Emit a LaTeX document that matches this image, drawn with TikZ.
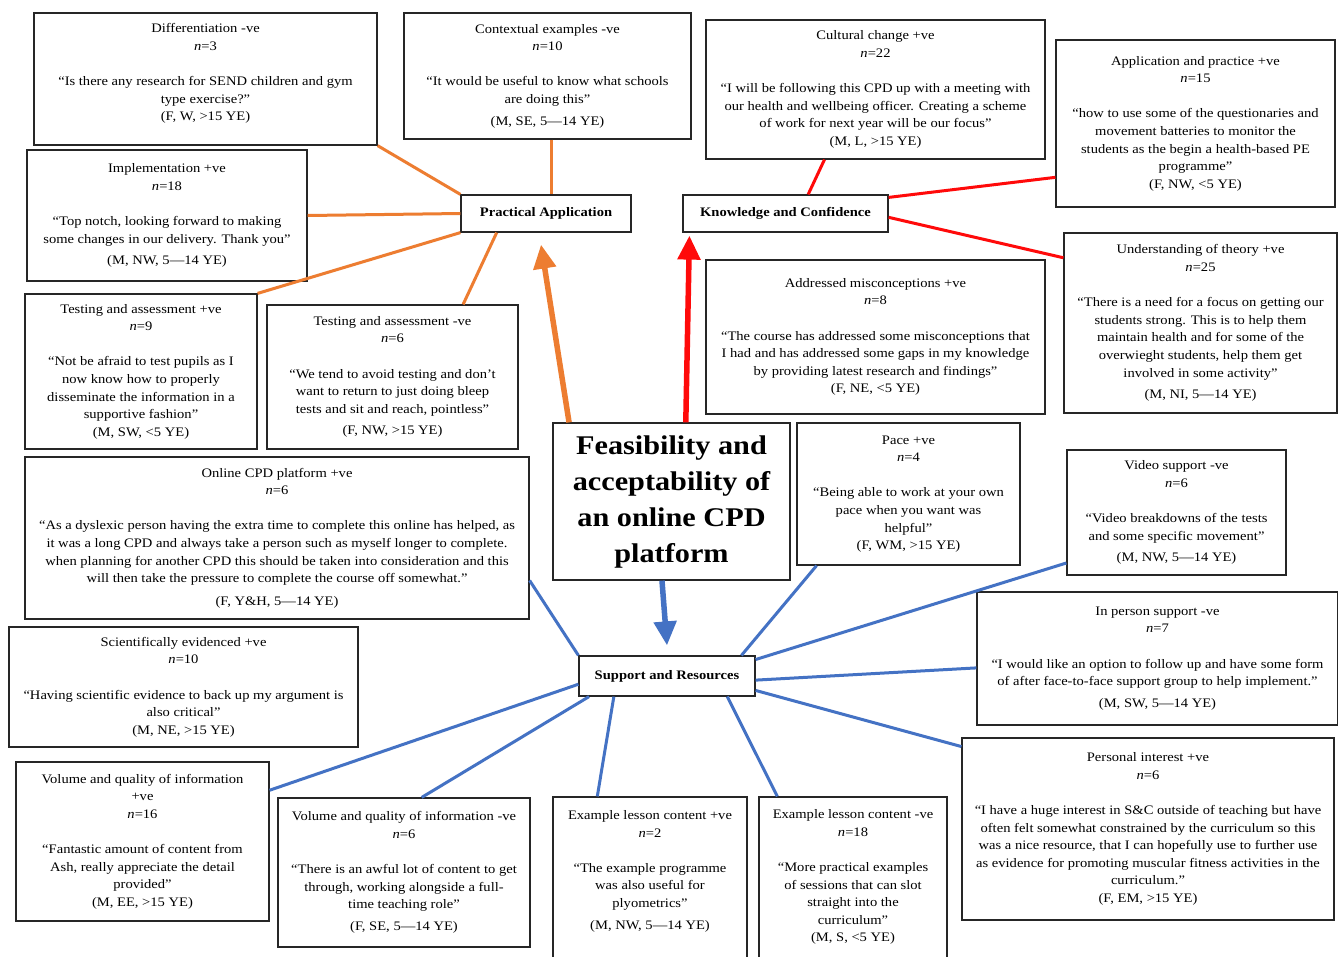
\documentclass[tikz,border=0pt]{standalone}
\usepackage{fontspec}
\setmainfont{Liberation Serif}[FakeStretch=1.12]
\usetikzlibrary{calc,arrows.meta}
\definecolor{orn}{HTML}{ED7D31}
\definecolor{rd}{HTML}{FF0A0A}
\definecolor{bl}{HTML}{4472C4}
\newcommand\nn[1]{\textit{n}=#1}
\begin{document}
\begin{tikzpicture}[x=1pt,y=-1pt,
  qbox/.style={draw=black!85,line width=1.2pt,inner sep=2pt,align=center,
    font=\fontsize{13}{17.6}\selectfont},
  hub/.style={draw=black!85,line width=1.2pt,inner sep=2pt,align=center,
    font=\fontsize{13}{15}\selectfont\bfseries},
  bigbox/.style={draw=black!85,line width=1.2pt,inner sep=2pt,align=center,
    font=\fontsize{27}{36}\selectfont\bfseries},
  olink/.style={draw=orn,line width=3pt},
  rlink/.style={draw=rd,line width=3pt},
  blink/.style={draw=bl,line width=3pt},
  bigarrow/.style={line width=5.5pt,-{Triangle[length=24pt,width=22pt]}}
]
\useasboundingbox (0,0) rectangle (1338,956);
\fill[white] (0,0) rectangle (1338,956);

% ---------- boxes ----------
\node[qbox,minimum width=343pt,minimum height=132pt] (diff) at (205.5,79)
 {Differentiation -ve\\ \nn{3}\\[17.6pt]
  ``Is there any research for SEND children and gym\\ type exercise?''\\ (F, W, >15 YE)\\[-4pt]\mbox{}};

\node[qbox,minimum width=287pt,minimum height=126pt] (ctx) at (547.5,76)
 {Contextual examples -ve\\ \nn{10}\\[17.6pt]
  ``It would be useful to know what schools\\ are doing this''\\[4pt] (M, SE, 5---14 YE)};

\node[qbox,minimum width=280pt,minimum height=131pt] (impl) at (167,215.5)
 {Implementation +ve\\ \nn{18}\\[17.6pt]
  ``Top notch, looking forward to making\\ some changes in our delivery. Thank you''\\[4pt] (M, NW, 5---14 YE)};

\node[hub,minimum width=170pt,minimum height=37pt] (PA) at (546,213.5) {Practical Application};
\node[hub,minimum width=205pt,minimum height=37pt] (KC) at (785.5,213.5) {Knowledge and Confidence};

\node[qbox,minimum width=339pt,minimum height=139pt] (cult) at (875.5,89.5)
 {Cultural change +ve\\ \nn{22}\\[17.6pt]
  ``I will be following this CPD up with a meeting with\\ our health and wellbeing officer. Creating a scheme\\
  of work for next year will be our focus''\\ (M, L, >15 YE)};

\node[qbox,minimum width=279pt,minimum height=167pt] (app) at (1195.5,123.5)
 {Application and practice +ve\\ \nn{15}\\[17.6pt]
  ``how to use some of the questionaries and\\ movement batteries to monitor the\\
  students as the begin a health-based PE\\ programme''\\ (F, NW, <5 YE)};

\node[qbox,minimum width=339pt,minimum height=154pt] (addr) at (875.5,337)
 {Addressed misconceptions +ve\\ \nn{8}\\[17.6pt]
  ``The course has addressed some misconceptions that\\ I had and has addressed some gaps in my knowledge\\
  by providing latest research and findings''\\ (F, NE, <5 YE)};

\node[qbox,minimum width=273pt,minimum height=180pt] (und) at (1200.5,323)
 {Understanding of theory +ve\\ \nn{25}\\[17.6pt]
  ``There is a need for a focus on getting our\\ students strong. This is to help them\\
  maintain health and for some of the\\ overwieght students, help them get\\
  involved in some activity''\\[4pt] (M, NI, 5---14 YE)};

\node[qbox,minimum width=232pt,minimum height=155pt] (tpos) at (141,371.5)
 {Testing and assessment +ve\\ \nn{9}\\[17.6pt]
  ``Not be afraid to test pupils as I\\ now know how to properly\\
  disseminate the information in a\\ supportive fashion''\\ (M, SW, <5 YE)};

\node[qbox,minimum width=251pt,minimum height=144pt] (tneg) at (392.5,377)
 {Testing and assessment -ve\\ \nn{6}\\[17.6pt]
  ``We tend to avoid testing and don't\\ want to return to just doing bleep\\
  tests and sit and reach, pointless''\\[4pt] (F, NW, >15 YE)};

\node[bigbox,minimum width=237pt,minimum height=157pt] (feas) at (671.5,501.5)
 {Feasibility and\\ acceptability of\\ an online CPD\\ platform};

\node[qbox,minimum width=223pt,minimum height=142pt] (pace) at (908.5,494)
 {Pace +ve\\ \nn{4}\\[17.6pt]
  ``Being able to work at your own\\ pace when you want was\\ helpful''\\ (F, WM, >15 YE)};

\node[qbox,minimum width=219pt,minimum height=125pt] (video) at (1176.5,512.5)
 {Video support -ve\\ \nn{6}\\[17.6pt]
  ``Video breakdowns of the tests\\ and some specific movement''\\[4pt] (M, NW, 5---14 YE)};

\node[qbox,minimum width=504pt,minimum height=162pt] (online) at (277,538)
 {Online CPD platform +ve\\ \nn{6}\\[17.6pt]
  ``As a dyslexic person having the extra time to complete this online has helped, as\\
  it was a long CPD and always take a person such as myself longer to complete.\\
  when planning for another CPD this should be taken into consideration and this\\
  will then take the pressure to complete the course off somewhat.''\\[5pt] (F, Y\&H, 5---14 YE)};

\node[qbox,minimum width=349pt,minimum height=120pt] (sci) at (183.5,687)
 {Scientifically evidenced +ve\\ \nn{10}\\[17.6pt]
  ``Having scientific evidence to back up my argument is\\ also critical''\\ (M, NE, >15 YE)};

\node[hub,minimum width=176pt,minimum height=40pt] (SR) at (667,676) {Support and Resources};

\node[qbox,minimum width=361pt,minimum height=133pt] (inperson) at (1157.5,658.5)
 {In person support -ve\\ \nn{7}\\[17.6pt]
  ``I would like an option to follow up and have some form\\
  of after face-to-face support group to help implement.''\\[4pt] (M, SW, 5---14 YE)};

\node[qbox,minimum width=372pt,minimum height=182pt] (personal) at (1148,829)
 {Personal interest +ve\\ \nn{6}\\[17.6pt]
  ``I have a huge interest in S\&C outside of teaching but have\\
  often felt somewhat constrained by the curriculum so this\\
  was a nice resource, that I can hopefully use to further use\\
  as evidence for promoting muscular fitness activities in the\\
  curriculum.''\\ (F, EM, >15 YE)};

\node[qbox,minimum width=253pt,minimum height=159pt] (volpos) at (142.5,841.5)
 {Volume and quality of information\\ +ve\\ \nn{16}\\[17.6pt]
  ``Fantastic amount of content from\\ Ash, really appreciate the detail\\
  provided''\\ (M, EE, >15 YE)};

\node[qbox,minimum width=252pt,minimum height=149pt] (volneg) at (404,872.5)
 {Volume and quality of information -ve\\ \nn{6}\\[17.6pt]
  ``There is an awful lot of content to get\\ through, working alongside a full-\\
  time teaching role''\\[4pt] (F, SE, 5---14 YE)};

\node[qbox,minimum width=194pt,minimum height=183pt] (expos) at (650,888.5)
 {Example lesson content +ve\\ \nn{2}\\[17.6pt]
  ``The example programme\\ was also useful for\\ plyometrics''\\[4pt] (M, NW, 5---14 YE)\\[20pt]\mbox{}};

\node[qbox,minimum width=188pt,minimum height=183pt] (exneg) at (853,888.5)
 {Example lesson content -ve\\ \nn{18}\\[17.6pt]
  ``More practical examples\\ of sessions that can slot\\ straight into the\\
  curriculum''\\ (M, S, <5 YE)\\[8pt]\mbox{}};

% ---------- orange connectors ----------
\draw[olink] (diff.south east) -- (PA.north west);
\draw[olink] ([xshift=3.5pt]ctx.south) -- ([xshift=3.5pt]ctx.south |- PA.north);
\draw[olink] (impl.east) -- (PA.west);
\draw[olink] (tpos.north east) -- (PA.south west);
\draw[olink] ($(tneg.north west)!0.78!(tneg.north east)$) -- ($(PA.south west)!0.212!(PA.south east)$);
\draw[orn,bigarrow] ($(feas.north west)!0.07!(feas.north east)$) -- ([xshift=-5pt,yshift=-12pt]PA.south);

% ---------- red connectors ----------
\draw[rlink] ($(KC.north west)!0.61!(KC.north east)$) -- ($(cult.south west)!0.35!(cult.south east)$);
\draw[rlink] ([yshift=-3pt]KC.north east) -- ($(app.north west)!0.82!(app.south west)$);
\draw[rlink] ($(KC.north east)!0.6!(KC.south east)$) -- ($(und.north west)!0.14!(und.south west)$);
\draw[rlink] ($(KC.south west)!0.74!(KC.south east)$) -- ($(KC.south west)!0.74!(KC.south east)$ |- addr.north);
\draw[rd,bigarrow] ($(feas.north west)!0.56!(feas.north east)$) -- ([xshift=7pt,yshift=-3pt]KC.south west);

% ---------- blue connectors ----------
\draw[blink] ($(online.north east)!0.76!(online.south east)$) -- (SR.north west);
\draw[blink] ($(sci.north east)!0.32!(sci.south east)$) -- ($(sci.north east)!0.32!(sci.south east)$ -| SR.west);
\draw[blink] ($(volpos.north east)!0.18!(volpos.south east)$) -- ($(SR.north west)!0.7!(SR.south west)$);
\draw[blink] ($(volneg.north west)!0.57!(volneg.north east)$) -- ($(SR.south west)!0.06!(SR.south east)$);
\draw[blink] ($(expos.north west)!0.23!(expos.north east)$) -- ($(SR.south west)!0.2!(SR.south east)$);
\draw[blink] ($(exneg.north west)!0.1!(exneg.north east)$) -- ($(SR.south west)!0.84!(SR.south east)$);
\draw[blink] ($(personal.north west)!0.05!(personal.south west)$) -- ($(SR.north east)!0.85!(SR.south east)$);
\draw[blink] ($(inperson.north west)!0.57!(inperson.south west)$) -- ($(SR.north east)!0.6!(SR.south east)$);
\draw[blink] ($(video.north west)!0.9!(video.south west)$) -- ($(SR.north east)!0.1!(SR.south east)$);
\draw[blink] ($(pace.south west)!0.09!(pace.south east)$) -- ($(SR.north west)!0.92!(SR.north east)$);
\draw[bl,bigarrow] ($(feas.south west)!0.46!(feas.south east)$) -- ([yshift=10pt]SR.north);
\end{tikzpicture}
\end{document}
